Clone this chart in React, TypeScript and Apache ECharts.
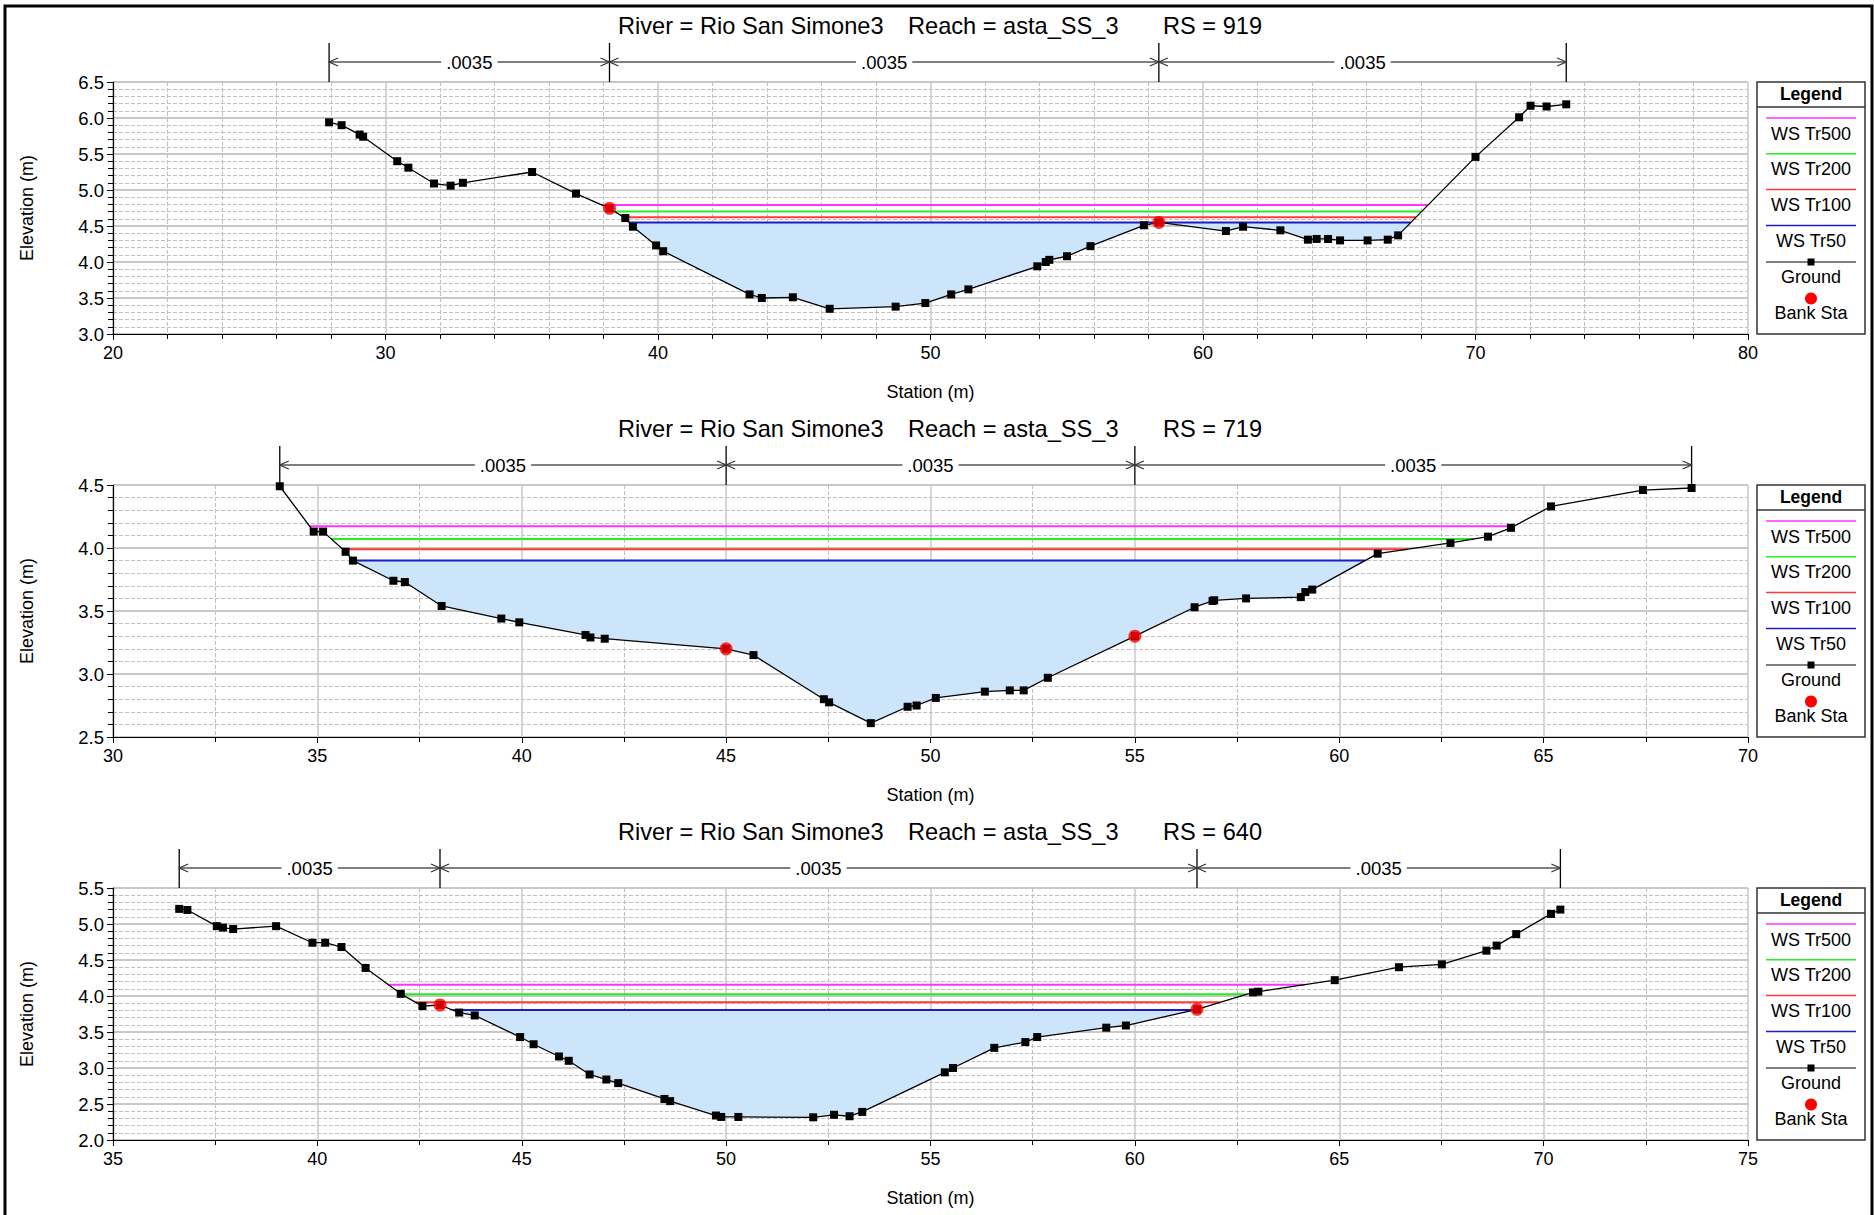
import React, { useEffect, useRef } from "react";
import * as echarts from "echarts";

const FONT = '"Liberation Sans", Arial, Helvetica, sans-serif';

const WS_NAMES = ["WS Tr500", "WS Tr200", "WS Tr100", "WS Tr50"];
const WS_COLORS = ["#ff33ff", "#22ee22", "#ff3a3a", "#1c1cc0"];

// ---------- Panel 1 : RS = 919 ----------
const p1Title = ["River = Rio San Simone3", "Reach = asta_SS_3", "RS = 919"];
const p1XTicks = [20, 30, 40, 50, 60, 70, 80];
const p1YTicks = [3.0, 3.5, 4.0, 4.5, 5.0, 5.5, 6.0, 6.5];
const p1Ground = [
  [27.93, 5.94], [28.39, 5.9], [29.05, 5.77], [29.18, 5.74], [30.43, 5.4], [30.84, 5.31],
  [31.78, 5.09], [32.39, 5.06], [32.84, 5.1], [35.38, 5.25], [36.99, 4.95], [38.22, 4.745],
  [38.8, 4.61], [39.08, 4.49], [39.93, 4.23], [40.19, 4.15], [43.36, 3.55], [43.81, 3.5],
  [44.95, 3.51], [46.3, 3.35], [48.72, 3.38], [49.81, 3.43], [50.76, 3.55], [51.39, 3.62],
  [53.92, 3.94], [54.23, 4.0], [54.36, 4.03], [55.01, 4.08], [55.87, 4.22], [57.83, 4.51],
  [58.38, 4.55], [60.84, 4.43], [61.47, 4.49], [62.84, 4.44], [63.85, 4.31], [64.17, 4.32],
  [64.59, 4.32], [65.03, 4.3], [66.04, 4.3], [66.78, 4.31], [67.16, 4.37], [70.0, 5.46],
  [71.6, 6.01], [72.02, 6.17], [72.61, 6.16], [73.33, 6.19],
];
const p1Bank = [[38.22, 4.745], [58.38, 4.55]];
const p1WS = [4.79, 4.7, 4.62, 4.55];
const p1N = [".0035", ".0035", ".0035"];

// ---------- Panel 2 : RS = 719 ----------
const p2Title = ["River = Rio San Simone3", "Reach = asta_SS_3", "RS = 719"];
const p2XTicks = [30, 35, 40, 45, 50, 55, 60, 65, 70];
const p2YTicks = [2.5, 3.0, 3.5, 4.0, 4.5];
const p2Ground = [
  [34.08, 4.49], [34.91, 4.13], [35.14, 4.13], [35.69, 3.97], [35.87, 3.9], [36.86, 3.74],
  [37.14, 3.73], [38.04, 3.54], [39.5, 3.44], [39.94, 3.41], [41.56, 3.31], [41.68, 3.29],
  [42.03, 3.28], [45.0, 3.2], [45.67, 3.15], [47.39, 2.8], [47.52, 2.775], [48.54, 2.61],
  [49.44, 2.74], [49.66, 2.75], [50.13, 2.81], [51.33, 2.86], [51.94, 2.87], [52.28, 2.87],
  [52.87, 2.97], [55.0, 3.3], [56.46, 3.53], [56.9, 3.58], [56.94, 3.585], [57.72, 3.6],
  [59.06, 3.61], [59.17, 3.65], [59.34, 3.67], [60.94, 3.955], [62.72, 4.04], [63.64, 4.09],
  [64.2, 4.16], [65.18, 4.33], [67.43, 4.46], [68.62, 4.476],
];
const p2Bank = [[45.0, 3.2], [55.0, 3.3]];
const p2WS = [4.172, 4.071, 3.99, 3.9];
const p2N = [".0035", ".0035", ".0035"];

// ---------- Panel 3 : RS = 640 ----------
const p3Title = ["River = Rio San Simone3", "Reach = asta_SS_3", "RS = 640"];
const p3XTicks = [35, 40, 45, 50, 55, 60, 65, 70, 75];
const p3YTicks = [2.0, 2.5, 3.0, 3.5, 4.0, 4.5, 5.0, 5.5];
const p3Ground = [
  [36.62, 5.21], [36.82, 5.195], [37.54, 4.97], [37.69, 4.95], [37.94, 4.93], [38.99, 4.97],
  [39.88, 4.74], [40.19, 4.74], [40.59, 4.68], [41.18, 4.39], [42.04, 4.03], [42.57, 3.86],
  [43.0, 3.875], [43.47, 3.77], [43.85, 3.73], [44.96, 3.43], [45.29, 3.33], [45.91, 3.16],
  [46.15, 3.1], [46.66, 2.91], [47.07, 2.84], [47.36, 2.79], [48.49, 2.57], [48.63, 2.54],
  [49.75, 2.34], [49.88, 2.32], [50.3, 2.32], [52.13, 2.315], [52.64, 2.35], [53.02, 2.33],
  [53.33, 2.39], [55.35, 2.94], [55.55, 3.0], [56.56, 3.28], [57.32, 3.36], [57.61, 3.43],
  [59.3, 3.56], [59.78, 3.59], [61.52, 3.815], [62.89, 4.05], [63.02, 4.06], [64.89, 4.22],
  [66.46, 4.4], [67.51, 4.44], [68.6, 4.63], [68.85, 4.7], [69.33, 4.86], [70.18, 5.14],
  [70.41, 5.2],
];
const p3Bank = [[43.0, 3.875], [61.52, 3.815]];
const p3WS = [4.157, 4.023, 3.912, 3.806];
const p3N = [".0035", ".0035", ".0035"];

const PANELS = [
  { title: p1Title, xt: p1XTicks, yt: p1YTicks, ground: p1Ground, bank: p1Bank, ws: p1WS, n: p1N, xMinor: 5 },
  { title: p2Title, xt: p2XTicks, yt: p2YTicks, ground: p2Ground, bank: p2Bank, ws: p2WS, n: p2N, xMinor: 2 },
  { title: p3Title, xt: p3XTicks, yt: p3YTicks, ground: p3Ground, bank: p3Bank, ws: p3WS, n: p3N, xMinor: 2 },
];

const GRID_TOPS = [82, 485, 888];
const GRID_H = 252;
const GRID_LEFT = 113;
const GRID_RIGHT = 126;

function wsExtent(g: number[][], ws: number): [number, number] | null {
  let xl: number | null = null;
  let xr: number | null = null;
  for (let i = 0; i < g.length - 1; i++) {
    const [x0, y0] = g[i];
    const [x1, y1] = g[i + 1];
    if (y0 >= ws && y1 < ws) {
      xl = x0 + ((y0 - ws) / (y0 - y1)) * (x1 - x0);
      break;
    }
  }
  for (let i = g.length - 1; i > 0; i--) {
    const [x0, y0] = g[i];
    const [x1, y1] = g[i - 1];
    if (y0 >= ws && y1 < ws) {
      xr = x0 + ((y0 - ws) / (y0 - y1)) * (x1 - x0);
      break;
    }
  }
  if (xl === null || xr === null) return null;
  return [xl, xr];
}

function fillPoints(g: number[][], ws: number): number[][] {
  const ext = wsExtent(g, ws);
  if (!ext) return [];
  const [xl, xr] = ext;
  const pts: number[][] = [[xl, ws]];
  g.forEach(([x, y]) => {
    if (x > xl && x < xr) pts.push([x, Math.min(y, ws)]);
  });
  pts.push([xr, ws]);
  return pts;
}

function buildOption() {
  const grid: any[] = [];
  const xAxis: any[] = [];
  const yAxis: any[] = [];
  const series: any[] = [];
  const graphic: any[] = [];

  graphic.push({
    type: "rect",
    shape: { x: 5, y: 6, width: 1867, height: 1225 },
    style: { stroke: "#000", lineWidth: 3, fill: "none" },
    silent: true,
  });

  PANELS.forEach((p, k) => {
    const top = GRID_TOPS[k];
    grid.push({ left: GRID_LEFT, right: GRID_RIGHT, top, height: GRID_H, containLabel: false });
    const xMin = p.xt[0];
    const xMax = p.xt[p.xt.length - 1];
    const yMin = p.yt[0];
    const yMax = p.yt[p.yt.length - 1];

    xAxis.push({
      type: "value",
      gridIndex: k,
      min: xMin,
      max: xMax,
      interval: p.xt[1] - p.xt[0],
      name: "Station (m)",
      nameLocation: "middle",
      nameGap: 49,
      nameTextStyle: { fontSize: 18, color: "#000", fontFamily: FONT },
      axisLine: { show: true, onZero: false, lineStyle: { color: "#000", width: 1.2 } },
      axisTick: { show: true, length: 6, lineStyle: { color: "#000" } },
      minorTick: { show: true, splitNumber: p.xMinor, length: 5, lineStyle: { color: "#000" } },
      axisLabel: { fontSize: 18, color: "#000", margin: 10, fontFamily: FONT },
      splitLine: { show: true, lineStyle: { color: "#c8c8c8", width: 1.5 } },
      minorSplitLine: { show: true, lineStyle: { color: "#c0c0c0", width: 1, type: [4, 2] } },
    });

    yAxis.push({
      type: "value",
      gridIndex: k,
      min: yMin,
      max: yMax,
      interval: 0.5,
      name: "Elevation (m)",
      nameLocation: "middle",
      nameGap: 77,
      nameRotate: 90,
      nameTextStyle: { fontSize: 18, color: "#000", fontFamily: FONT },
      axisLine: { show: true, onZero: false, lineStyle: { color: "#000", width: 1.2 } },
      axisTick: { show: true, length: 6, lineStyle: { color: "#000" } },
      minorTick: { show: true, splitNumber: 5, length: 5, lineStyle: { color: "#000" } },
      axisLabel: {
        fontSize: 18.5,
        color: "#000",
        margin: 9,
        fontFamily: FONT,
        formatter: (v: number) => v.toFixed(1),
      },
      splitLine: { show: true, lineStyle: { color: "#c8c8c8", width: 2 } },
      minorSplitLine: { show: true, lineStyle: { color: "#c0c0c0", width: 1, type: [4, 2] } },
    });

    // Fill under lowest WS
    const fp = fillPoints(p.ground, p.ws[p.ws.length - 1]);
    series.push({
      type: "custom",
      name: "fill" + k,
      xAxisIndex: k,
      yAxisIndex: k,
      silent: true,
      z: 1,
      data: [fp[0]],
      renderItem: (_params: any, api: any) => ({
        type: "polygon",
        shape: { points: fp.map((pt) => api.coord(pt)) },
        style: { fill: "#cde5fa", stroke: "none" },
      }),
    });

    // WS lines
    p.ws.forEach((ws, i) => {
      const ext = wsExtent(p.ground, ws);
      series.push({
        type: "line",
        name: WS_NAMES[i],
        xAxisIndex: k,
        yAxisIndex: k,
        z: 3,
        symbol: "none",
        silent: true,
        lineStyle: { color: WS_COLORS[i], width: 2 },
        data: ext ? [[ext[0], ws], [ext[1], ws]] : [],
      });
    });

    // Ground
    series.push({
      type: "line",
      name: "Ground",
      xAxisIndex: k,
      yAxisIndex: k,
      z: 4,
      symbol: "rect",
      symbolSize: 8,
      showAllSymbol: true,
      itemStyle: { color: "#000" },
      lineStyle: { color: "#000", width: 1.3 },
      data: p.ground,
    });

    // Bank stations
    series.push({
      type: "scatter",
      name: "Bank Sta",
      xAxisIndex: k,
      yAxisIndex: k,
      z: 5,
      symbol: "circle",
      symbolSize: 13,
      itemStyle: { color: "#ff0000" },
      data: p.bank,
    });

    // Manning's n dimension lines
    const breaks = [p.ground[0][0], p.bank[0][0], p.bank[1][0], p.ground[p.ground.length - 1][0]];
    series.push({
      type: "custom",
      name: "n" + k,
      xAxisIndex: k,
      yAxisIndex: k,
      clip: false,
      silent: true,
      z: 6,
      data: [[breaks[0], yMax]],
      renderItem: (_params: any, api: any) => {
        const gTop = api.coord([breaks[0], yMax])[1];
        const yL = gTop - 20;
        const yT = gTop - 39;
        const px = breaks.map((b) => api.coord([b, yMax])[0]);
        const children: any[] = [];
        px.forEach((x) => {
          children.push({
            type: "line",
            shape: { x1: x, y1: yT, x2: x, y2: gTop },
            style: { stroke: "#000", lineWidth: 1.3 },
          });
        });
        for (let i = 0; i < px.length - 1; i++) {
          const a = px[i];
          const b = px[i + 1];
          children.push({
            type: "line",
            shape: { x1: a, y1: yL, x2: b, y2: yL },
            style: { stroke: "#555", lineWidth: 1.3 },
          });
          children.push({
            type: "polyline",
            shape: { points: [[a + 9, yL - 4], [a, yL], [a + 9, yL + 4]] },
            style: { stroke: "#333", fill: "none", lineWidth: 1.2 },
          });
          children.push({
            type: "polyline",
            shape: { points: [[b - 9, yL - 4], [b, yL], [b - 9, yL + 4]] },
            style: { stroke: "#333", fill: "none", lineWidth: 1.2 },
          });
          children.push({
            type: "text",
            x: (a + b) / 2,
            y: yL,
            style: {
              text: p.n[i],
              fill: "#000",
              fontSize: 18.5,
              fontFamily: FONT,
              align: "center",
              verticalAlign: "middle",
              backgroundColor: "#fff",
              padding: [0, 5],
            },
          });
        }
        return { type: "group", children };
      },
    });

    // Title
    const titleX = [618, 908, 1163];
    p.title.forEach((t, i) => {
      graphic.push({
        type: "text",
        x: titleX[i],
        y: top - 56,
        silent: true,
        style: {
          text: t,
          fill: "#000",
          fontSize: 23.6,
          fontFamily: FONT,
          align: "left",
          verticalAlign: "middle",
        },
      });
    });

    // Legend box
    const L = 1757;
    const W = 108;
    const cx = L + W / 2;
    const lx1 = 1766;
    const lx2 = 1856;
    const lf = { fontSize: 18, fontFamily: FONT, fill: "#000", align: "center", verticalAlign: "middle" };
    graphic.push({
      type: "rect",
      silent: true,
      shape: { x: L, y: top, width: W, height: GRID_H },
      style: { stroke: "#333", lineWidth: 1.5, fill: "#fff" },
    });
    graphic.push({
      type: "line",
      silent: true,
      shape: { x1: L, y1: top + 25, x2: L + W, y2: top + 25 },
      style: { stroke: "#333", lineWidth: 1.5 },
    });
    graphic.push({
      type: "text",
      silent: true,
      x: cx,
      y: top + 11.5,
      style: { ...lf, text: "Legend", fontSize: 17.5, fontWeight: "bold" },
    });
    WS_NAMES.forEach((nm, i) => {
      const yl = top + 36 + 35.8 * i;
      graphic.push({
        type: "line",
        silent: true,
        shape: { x1: lx1, y1: yl, x2: lx2, y2: yl },
        style: { stroke: WS_COLORS[i], lineWidth: 1.5 },
      });
      graphic.push({ type: "text", silent: true, x: cx, y: yl + 15.5, style: { ...lf, text: nm } });
    });
    const gy = top + 180;
    graphic.push({
      type: "line",
      silent: true,
      shape: { x1: lx1, y1: gy, x2: lx2, y2: gy },
      style: { stroke: "#000", lineWidth: 1.2 },
    });
    graphic.push({
      type: "rect",
      silent: true,
      shape: { x: cx - 3.5, y: gy - 3.5, width: 7, height: 7 },
      style: { fill: "#000" },
    });
    graphic.push({ type: "text", silent: true, x: cx, y: gy + 15, style: { ...lf, text: "Ground" } });
    graphic.push({
      type: "circle",
      silent: true,
      shape: { cx, cy: top + 216.5, r: 6 },
      style: { fill: "#ff0000" },
    });
    graphic.push({ type: "text", silent: true, x: cx, y: top + 231, style: { ...lf, text: "Bank Sta" } });
  });

  return {
    animation: false,
    backgroundColor: "#fff",
    textStyle: { fontFamily: FONT },
    grid,
    xAxis,
    yAxis,
    series,
    graphic,
  };
}

export default function App() {
  const ref = useRef<HTMLDivElement>(null);
  useEffect(() => {
    if (!ref.current) return;
    const chart = echarts.init(ref.current, undefined, { renderer: "svg" });
    chart.setOption(buildOption() as any);
    return () => chart.dispose();
  }, []);
  return (
    <div
      ref={ref}
      style={{ position: "absolute", left: 0, top: 0, width: 1874, height: 1215, background: "#fff" }}
    />
  );
}
